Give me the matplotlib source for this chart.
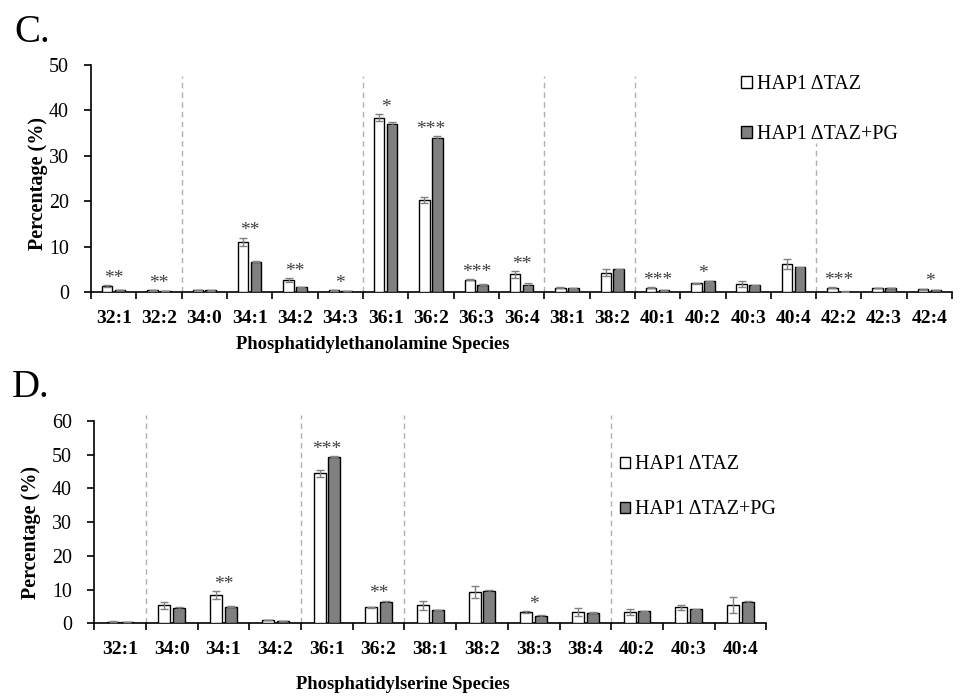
import matplotlib.pyplot as plt
import numpy as np

plt.rcParams['font.family'] = ['Liberation Serif', 'DejaVu Serif']

# Phosphatidylethanolamine species (panel C)
pe_species = ['32:1', '32:2', '34:0', '34:1', '34:2', '34:3', '36:1', '36:2', '36:3', '36:4',
              '38:1', '38:2', '40:1', '40:2', '40:3', '40:4', '42:2', '42:3', '42:4']
pe_taz = [1.3, 0.35, 0.5, 11.1, 2.6, 0.35, 38.4, 20.3, 2.7, 3.9,
          1.0, 4.3, 0.95, 1.9, 1.8, 6.2, 0.95, 0.9, 0.6]
pe_taz_err = [0.15, 0.05, 0.05, 0.9, 0.4, 0.05, 0.8, 0.6, 0.15, 0.7,
              0.1, 0.8, 0.1, 0.15, 0.6, 1.1, 0.1, 0.1, 0.1]
pe_pg = [0.45, 0.15, 0.35, 6.7, 1.1, 0.15, 37.1, 34.0, 1.6, 1.6,
         0.8, 5.0, 0.35, 2.35, 1.5, 5.5, 0.1, 0.9, 0.4]
pe_pg_err = [0.05, 0.02, 0.03, 0.1, 0.1, 0.02, 0.4, 0.3, 0.1, 0.3,
             0.05, 0.1, 0.05, 0.15, 0.1, 0.1, 0.02, 0.1, 0.05]
pe_stars = ['**', '**', '', '**', '**', '*', '*', '***', '***', '**',
            '', '', '***', '*', '', '', '***', '', '*']
pe_groups = [1.5, 5.5, 9.5, 11.5, 15.5]

# Phosphatidylserine species (panel D)
ps_species = ['32:1', '34:0', '34:1', '34:2', '36:1', '36:2', '38:1', '38:2', '38:3', '38:4',
              '40:2', '40:3', '40:4']
ps_taz = [0.5, 5.3, 8.3, 1.0, 44.5, 4.75, 5.3, 9.3, 3.3, 3.35, 3.3, 4.75, 5.5]
ps_taz_err = [0.1, 1.1, 1.2, 0.1, 1.0, 0.2, 1.2, 1.8, 0.3, 1.1, 0.9, 0.7, 2.3]
ps_pg = [0.4, 4.5, 4.9, 0.7, 49.4, 6.3, 4.0, 9.6, 2.3, 3.15, 3.55, 4.15, 6.3]
ps_pg_err = [0.05, 0.2, 0.1, 0.1, 0.2, 0.4, 0.1, 0.4, 0.3, 0.1, 0.1, 0.2, 0.2]
ps_stars = ['', '', '**', '', '***', '**', '', '', '*', '', '', '', '']
ps_groups = [0.5, 3.5, 5.5, 9.5]

legend_labels = ['HAP1 \u0394TAZ', 'HAP1 \u0394TAZ+PG']


def draw_panel(ax, species, taz, taz_err, pg, pg_err, stars, groups, ymax, group_tops):
    x = np.arange(len(species))
    w = 0.232
    off = 0.142
    ekw = dict(ecolor='#808080', elinewidth=1, capsize=3, capthick=1)
    b1 = ax.bar(x - off, taz, w, yerr=taz_err, color='white', edgecolor='black',
                linewidth=1, error_kw=ekw, zorder=3)
    b2 = ax.bar(x + off, pg, w, yerr=pg_err, color='#808080', edgecolor='black',
                linewidth=1, error_kw=ekw, zorder=3)
    # significance markers sit just above the taller bar of each pair
    tops = np.maximum(np.array(taz) + np.array(taz_err), np.array(pg) + np.array(pg_err))
    for xi, t, s in zip(x, tops, stars):
        if s:
            ax.annotate(s, (xi, t), xytext=(0, 5), textcoords='offset points',
                        ha='center', va='center', fontsize=14, color='#404040')
    # dashed separators between species groups
    for g, top in zip(groups, group_tops):
        ax.plot([g, g], [0, top], color='#b0b0b0', linestyle=(0, (4, 3)),
                linewidth=1, clip_on=False, zorder=1)
    ax.set_xlim(-0.5, len(species) - 0.5)
    ax.set_ylim(0, ymax)
    ax.set_yticks(np.arange(0, ymax + 1, 10))
    ax.set_xticks(np.arange(-0.5, len(species), 1.0))
    ax.set_xticklabels([])
    ax.set_xticks(x, minor=True)
    ax.set_xticklabels(species, minor=True, fontweight='bold', fontsize=14)
    ax.tick_params(axis='x', which='minor', length=0, pad=13)
    ax.tick_params(axis='x', which='major', length=5, width=1.2, direction='out')
    ax.tick_params(axis='y', length=5, width=1.2, direction='out', labelsize=14.4, pad=11)
    for side in ['top', 'right']:
        ax.spines[side].set_visible(False)
    for side in ['left', 'bottom']:
        ax.spines[side].set_linewidth(1.2)
    ax.set_ylabel('Percentage (%)', fontweight='bold', fontsize=14.5)
    return b1, b2


fig = plt.figure(figsize=(9.6, 6.97), dpi=100)

# Panel C
ax1 = fig.add_axes([0.0948, 0.581, 0.897, 0.3257])
h = draw_panel(ax1, pe_species, pe_taz, pe_taz_err, pe_pg, pe_pg_err, pe_stars,
               pe_groups, 50, [47.6, 47.6, 47.6, 47.6, 32.8])
ax1.yaxis.set_label_coords(-0.05, 0.48)
ax1.set_xlabel('Phosphatidylethanolamine Species', fontweight='bold', fontsize=13.3)
ax1.xaxis.set_label_coords(0.327, -0.195)
ax1.legend(h, legend_labels, loc='upper left', bbox_to_anchor=(0.755, 0.955),
           frameon=False, fontsize=14.4, handlelength=0.55, handleheight=0.55,
           handletextpad=0.25, labelspacing=1.55, borderpad=0, borderaxespad=0)
fig.text(0.015, 0.94, 'C.', fontsize=28)

# Panel D
ax2 = fig.add_axes([0.0982, 0.1057, 0.700, 0.2903])
h = draw_panel(ax2, ps_species, ps_taz, ps_taz_err, ps_pg, ps_pg_err, ps_stars,
               ps_groups, 60, [61.8, 61.8, 61.8, 61.8])
ax2.yaxis.set_label_coords(-0.08, 0.45)
ax2.set_xlabel('Phosphatidylserine Species', fontweight='bold', fontsize=13.3)
ax2.xaxis.set_label_coords(0.459, -0.26)
ax2.legend(h, legend_labels, loc='upper left', bbox_to_anchor=(0.783, 0.83),
           frameon=False, fontsize=14.4, handlelength=0.5, handleheight=0.5,
           handletextpad=0.25, labelspacing=1.3, borderpad=0, borderaxespad=0)
fig.text(0.012, 0.43, 'D.', fontsize=28)

fig.savefig('out.png', dpi=100)
